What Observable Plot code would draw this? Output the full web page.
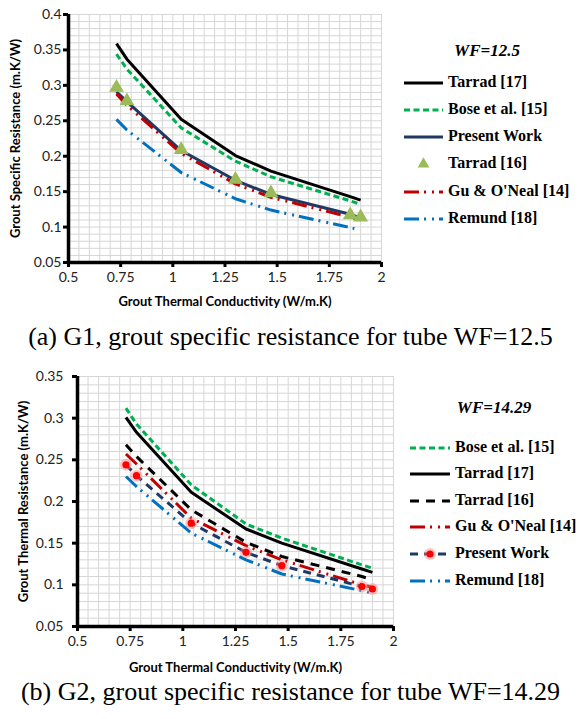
<!DOCTYPE html>
<html><head><meta charset="utf-8">
<script src="https://cdn.jsdelivr.net/npm/d3@7"></script>
<script src="https://cdn.jsdelivr.net/npm/@observablehq/plot@0.6"></script>
<style>
body{margin:0;background:#fff;}
#root{position:relative;width:581px;height:719px;overflow:hidden;}
.chart{position:absolute;left:0;}
.legend{position:absolute;left:0;}
.caption{position:absolute;left:0;width:581px;text-align:center;font-family:"Liberation Serif","Times New Roman",serif;font-size:26px;line-height:30px;white-space:nowrap;color:#000;}
</style></head><body><div id="root"></div>
<script>
// ---------- data ----------
const xValues = [0.73, 0.78, 1.04, 1.3, 1.47, 1.85, 1.9];
const xRemund1 = [0.73, 0.78, 1.04, 1.3, 1.47, 1.87];

// (a) G1, WF=12.5
const g1Tarrad17 = [0.359, 0.337, 0.252, 0.201, 0.179, 0.143, 0.138];
const g1Bose = [0.344, 0.323, 0.240, 0.193, 0.171, 0.137, 0.132];
const g1Present = [0.291, 0.277, 0.208, 0.166, 0.146, 0.118, 0.113];
const g1Tarrad16 = [0.297, 0.278, 0.209, 0.167, 0.148, 0.117, 0.114];
const g1Gu = [0.288, 0.272, 0.204, 0.161, 0.142, 0.114, 0.110];
const g1Remund = [0.252, 0.237, 0.177, 0.140, 0.124, 0.098];

// (b) G2, WF=14.29
const g2Bose = [0.312, 0.293, 0.220, 0.173, 0.156, 0.124, 0.120];
const g2Tarrad17 = [0.301, 0.283, 0.211, 0.167, 0.150, 0.119, 0.115];
const g2Tarrad16 = [0.268, 0.254, 0.190, 0.151, 0.134, 0.110, 0.106];
const g2Gu = [0.257, 0.245, 0.180, 0.147, 0.130, 0.100, 0.097];
const g2Present = [0.244, 0.231, 0.174, 0.139, 0.123, 0.098, 0.095];
const g2Remund = [0.230, 0.218, 0.162, 0.130, 0.113, 0.093, 0.090];

const xTicks = [0.5, 0.75, 1, 1.25, 1.5, 1.75, 2];
const xTickLabels = ["0.5", "0.75", "1", "1.25", "1.5", "1.75", "2"];
const yTicks1 = [0.05, 0.1, 0.15, 0.2, 0.25, 0.3, 0.35, 0.4];
const yTickLabels1 = ["0.05", "0.1", "0.15", "0.2", "0.25", "0.3", "0.35", "0.4"];
const yTicks2 = [0.05, 0.1, 0.15, 0.2, 0.25, 0.3, 0.35];
const yTickLabels2 = ["0.05", "0.1", "0.15", "0.2", "0.25", "0.3", "0.35"];

const xTitle = "Grout Thermal Conductivity (W/m.K)";
const yTitle1 = "Grout Specific Resistance (m.K/W)";
const yTitle2 = "Grout Thermal Resistance (m.K/W)";
const legendTitle1 = "WF=12.5";
const legendTitle2 = "WF=14.29";
const caption1 = "(a) G1, grout specific resistance for tube WF=12.5";
const caption2 = "(b) G2, grout specific resistance for tube WF=14.29";

// ---------- styles ----------
const DASH_GREEN = "6,3.5";
const DASH_LDD = "15,5,2,6,2,5";
const DASH_BLACK = "9,7";
const DASH_NAVY = "8,6";

const rows = (xs, ys) => ys.map((y, i) => ({x: xs[i], y}));

const series1 = [
  {name: "Tarrad [17]", data: rows(xValues, g1Tarrad17), stroke: "#000000", dash: null, width: 3},
  {name: "Bose et al. [15]", data: rows(xValues, g1Bose), stroke: "#00b050", dash: DASH_GREEN, width: 3},
  {name: "Present Work", data: rows(xValues, g1Present), stroke: "#1f3864", dash: null, width: 3},
  {name: "Tarrad [16]", data: rows(xValues, g1Tarrad16), marker: "triangle", fill: "#9bbb59"},
  {name: "Gu & O'Neal [14]", data: rows(xValues, g1Gu), stroke: "#c00000", dash: DASH_LDD, width: 3},
  {name: "Remund [18]", data: rows(xRemund1, g1Remund), stroke: "#0070c0", dash: DASH_LDD, width: 3}
];
const series2 = [
  {name: "Bose et al. [15]", data: rows(xValues, g2Bose), stroke: "#00b050", dash: DASH_GREEN, width: 3},
  {name: "Tarrad [17]", data: rows(xValues, g2Tarrad17), stroke: "#000000", dash: null, width: 3},
  {name: "Tarrad [16]", data: rows(xValues, g2Tarrad16), stroke: "#000000", dash: DASH_BLACK, width: 3},
  {name: "Gu & O'Neal [14]", data: rows(xValues, g2Gu), stroke: "#c00000", dash: DASH_LDD, width: 3},
  {name: "Present Work", data: rows(xValues, g2Present), stroke: "#1f3864", dash: DASH_NAVY, width: 3, marker: "dot", fill: "#ff0000"},
  {name: "Remund [18]", data: rows(xValues, g2Remund), stroke: "#0070c0", dash: DASH_LDD, width: 3}
];

const gridX = d3.range(0, 31).map(i => +(0.5 + i * 0.05).toFixed(2));
const gridY = (lo, hi) => d3.range(0, Math.round((hi - lo) / 0.01) + 1).map(i => +(lo + i * 0.01).toFixed(2));

function makeChart(cfg) {
  const marks = [
    Plot.gridX(gridX, {stroke: "#d6d6d6", strokeOpacity: 1, strokeWidth: 1}),
    Plot.gridY(gridY(cfg.yDomain[0], cfg.yDomain[1]), {stroke: "#d6d6d6", strokeOpacity: 1, strokeWidth: 1})
  ];
  for (const s of cfg.series) {
    if (s.stroke) {
      marks.push(Plot.line(s.data, {x: "x", y: "y", stroke: s.stroke, strokeWidth: s.width, strokeDasharray: s.dash || undefined, strokeLinejoin: "round", strokeLinecap: "butt"}));
    }
  }
  for (const s of cfg.series) {
    if (s.marker === "triangle") {
      marks.push(Plot.dot(s.data, {x: "x", y: "y", symbol: "triangle", r: 5.5, fill: s.fill, stroke: "none"}));
    } else if (s.marker === "dot") {
      marks.push(Plot.dot(s.data, {x: "x", y: "y", r: 6, fill: "#ff8080", fillOpacity: 0.45, stroke: "none"}));
      marks.push(Plot.dot(s.data, {x: "x", y: "y", r: 3.6, fill: s.fill, stroke: "none"}));
    }
  }
  marks.push(
    Plot.ruleX([cfg.xDomain[0]], {stroke: "#000", strokeWidth: 3.5}),
    Plot.ruleY([cfg.yDomain[0]], {stroke: "#000", strokeWidth: 3.5}),
    Plot.axisX({ticks: xTicks, tickFormat: d => xTickLabels[xTicks.indexOf(d)], tickSize: 5, tickPadding: 5, strokeWidth: 3, fontSize: 14, label: null, fill: "#222"}),
    Plot.axisY({ticks: cfg.yTicks, tickFormat: d => cfg.yTickLabels[cfg.yTicks.indexOf(d)], tickSize: 5, tickPadding: cfg.yPad, strokeWidth: 3, fontSize: 14, label: null, fill: "#222"}),
    Plot.text([xTitle], {frameAnchor: "bottom", textAnchor: "middle", lineAnchor: "middle", dy: cfg.xTitleDy, fontWeight: "bold", fontSize: 13, fill: "#000"}),
    Plot.text([cfg.yTitle], {frameAnchor: "left", textAnchor: "middle", lineAnchor: "middle", rotate: -90, dx: cfg.yTitleDx, fontWeight: "bold", fontSize: 13, fill: "#000"})
  );
  return Plot.plot({
    width: 400, height: cfg.height,
    marginLeft: cfg.ml, marginRight: cfg.mr, marginTop: cfg.mt, marginBottom: cfg.mb,
    x: {type: "linear", domain: cfg.xDomain, label: null},
    y: {type: "linear", domain: cfg.yDomain, label: null},
    style: {fontFamily: "Lato, 'Open Sans', sans-serif", fontSize: "14px", color: "#000", background: "transparent", overflow: "visible"},
    marks
  });
}

function makeLegend(cfg) {
  const svg = d3.create("svg").attr("width", 581).attr("height", cfg.height)
    .style("position", "absolute").style("left", "0px").style("top", cfg.top + "px")
    .style("overflow", "visible");
  svg.append("text").attr("x", cfg.titleX).attr("y", cfg.titleY).attr("text-anchor", "middle")
    .attr("dominant-baseline", "middle")
    .style("font-family", "'Liberation Serif','Times New Roman',serif").style("font-weight", "bold")
    .style("font-style", "italic").style("font-size", "17px").text(cfg.title);
  cfg.series.forEach((s, i) => {
    const y = cfg.rowY[i];
    if (s.stroke) {
      svg.append("line").attr("x1", cfg.x0).attr("x2", cfg.x1).attr("y1", y).attr("y2", y)
        .attr("stroke", s.stroke).attr("stroke-width", s.width).attr("stroke-dasharray", s.dash || null);
    }
    if (s.marker === "triangle") {
      svg.append("path").attr("d", d3.symbol(d3.symbolTriangle, 60)()).attr("transform", `translate(${(cfg.x0 + cfg.x1) / 2},${y})`).attr("fill", s.fill);
    } else if (s.marker === "dot") {
      svg.append("circle").attr("cx", (cfg.x0 + cfg.x1) / 2).attr("cy", y).attr("r", 6).attr("fill", "#ff8080").attr("fill-opacity", 0.45);
      svg.append("circle").attr("cx", (cfg.x0 + cfg.x1) / 2).attr("cy", y).attr("r", 3.6).attr("fill", s.fill);
    }
    svg.append("text").attr("x", cfg.textX).attr("y", y).attr("dominant-baseline", "middle")
      .style("font-family", "'Liberation Serif','Times New Roman',serif").style("font-weight", "bold")
      .style("font-size", "16px").text(s.name);
  });
  return svg.node();
}

const root = document.getElementById("root");

const c1 = makeChart({
  series: series1, xDomain: [0.5, 2], yDomain: [0.05, 0.4], yTicks: yTicks1, yTickLabels: yTickLabels1,
  height: 312, ml: 68, mr: 19, mt: 14, mb: 50, yPad: 2, xTitleDy: 39, yTitleDx: -53, yTitle: yTitle1
});
c1.classList.add("chart"); c1.style.position = "absolute"; c1.style.top = "0px";
root.appendChild(c1);

const c2 = makeChart({
  series: series2, xDomain: [0.5, 2], yDomain: [0.05, 0.35], yTicks: yTicks2, yTickLabels: yTickLabels2,
  height: 316, ml: 77, mr: 7, mt: 16, mb: 50, yPad: 9, xTitleDy: 41, yTitleDx: -54, yTitle: yTitle2
});
c2.classList.add("chart"); c2.style.position = "absolute"; c2.style.top = "360px";
root.appendChild(c2);

root.appendChild(makeLegend({
  series: series1, top: 0, height: 300, title: legendTitle1, titleX: 487, titleY: 52,
  rowY: [83, 110, 137, 164, 192, 219], x0: 404, x1: 443, textX: 448
}));
root.appendChild(makeLegend({
  series: series2, top: 0, height: 719, title: legendTitle2, titleX: 494, titleY: 409,
  rowY: [448, 474, 501, 527, 554, 581], x0: 410, x1: 450, textX: 455
}));

const cap1 = document.createElement("div");
cap1.className = "caption"; cap1.style.top = "322px"; cap1.textContent = caption1;
root.appendChild(cap1);
const cap2 = document.createElement("div");
cap2.className = "caption"; cap2.style.top = "677px"; cap2.textContent = caption2;
root.appendChild(cap2);
</script>
</body></html>
